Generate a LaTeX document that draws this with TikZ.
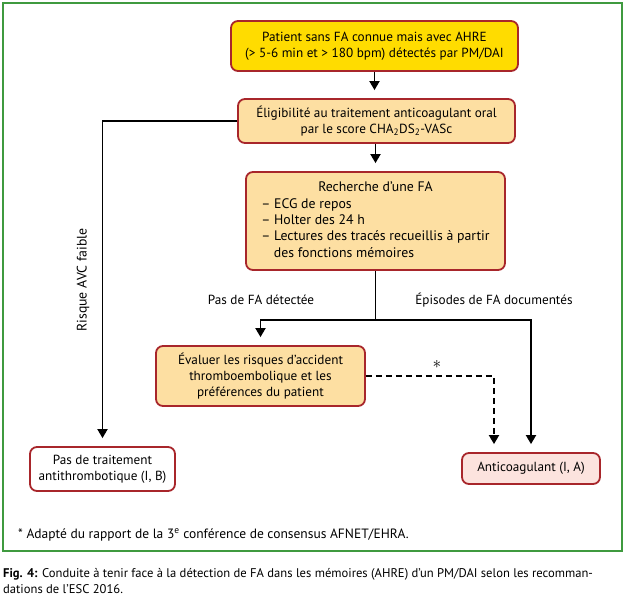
\documentclass[tikz,border=0pt]{standalone}
\usepackage{fontspec}
\setmainfont{PT Sans}
\usetikzlibrary{arrows.meta,calc}
\definecolor{frameg}{HTML}{3F9A3F}
\definecolor{boxred}{HTML}{A8262B}
\definecolor{yel}{HTML}{FFDC00}
\definecolor{peach}{HTML}{FDDFA2}
\definecolor{pink}{HTML}{FCE3DE}
\begin{document}
\begin{tikzpicture}[x=1pt,y=-1pt,
  box/.style={draw=boxred, line width=1.8pt, rounded corners=7pt, align=center, inner sep=0pt, font=\fontsize{13.2}{16.2}\selectfont},
  conn/.style={line width=1.8pt, -{Triangle[length=9pt,width=10pt]}, shorten >=8pt},
  plain/.style={line width=1.8pt},
  lbl/.style={font=\fontsize{13.2}{16}\selectfont, inner sep=0pt}]
\useasboundingbox (0,0) rectangle (627,603);
\draw[frameg, line width=1.8pt] (3,3) rectangle (622,551);

\node[box, fill=yel, minimum width=287pt, minimum height=50pt] (b1) at (374.5,46)
  {Patient sans FA connue mais avec AHRE\\(> 5-6 min et > 180 bpm) détectés par PM/DAI};
\node[box, fill=peach, minimum width=277pt, minimum height=44pt] (b2) at (376.5,121)
  {Éligibilité au traitement anticoagulant oral\\par le score CHA\textsubscript{2}DS\textsubscript{2}-VASc};
\node[box, fill=peach, minimum width=259pt, minimum height=98pt, font=\fontsize{13.8}{16.2}\selectfont] (b3) at (375.5,221)
  {\begin{tabular}{@{}l@{}}\multicolumn{1}{@{}c@{}}{Recherche d’une FA}\\[1pt]
   – ECG de repos\\ – Holter des 24 h\\ – Lectures des tracés recueillis à partir\\ \phantom{–}\hspace{0.25em}des fonctions mémoires\end{tabular}};
\node[box, fill=peach, minimum width=209pt, minimum height=60pt] (b4) at (260.5,376)
  {Évaluer les risques d’accident\\thromboembolique et les\\préférences du patient};
\node[box, fill=white, minimum width=145pt, minimum height=44pt] (b5) at (102.5,469)
  {Pas de traitement\\antithrombotique (I, B)};
\node[box, fill=pink, minimum width=138pt, minimum height=31pt] (b6) at (531,468.5)
  {Anticoagulant (I, A)};

\draw[conn] (b1.south) -- (b1.south |- b2.north);
\draw[conn] (b2.south -| b3.north) -- (b3.north);
\draw[conn] (b2.west) -| (b5.north);
\draw[plain] (b3.south) -- ++(0,49) coordinate (j);
\draw[conn] (j) -| (b4.north);
\draw[conn] (j) -| (b6.north);
\coordinate (d) at ($(b6.north)+(-37,0)$);
\draw[conn, dash pattern=on 6pt off 4pt] (b4.east) -| (d);

\node[lbl] (l1) at (261,300) {Pas de FA détectée};
\node[lbl] (l2) at (494,300) {Épisodes de FA documentés};
\node[lbl, rotate=90] (l3) at (83,280) {\fontsize{13.8}{16}\selectfont Risque AVC faible};
\node[lbl] (st) at (437,364) {\fontsize{16}{16}\selectfont $\ast$};
\node[lbl, anchor=west] (fn) at (18,535) {\fontsize{13.5}{14}\selectfont * Adapté du rapport de la 3\textsuperscript{e} conférence de consensus AFNET/EHRA.};
\node[lbl, anchor=north west, align=left, font=\fontsize{12.6}{16.5}\selectfont] (cap) at (3,568)
  {\textbf{Fig. 4:} Conduite à tenir face à la détection de FA dans les mémoires (AHRE) d’un PM/DAI selon les recomman-\\dations de l’ESC 2016.};
\end{tikzpicture}
\end{document}
